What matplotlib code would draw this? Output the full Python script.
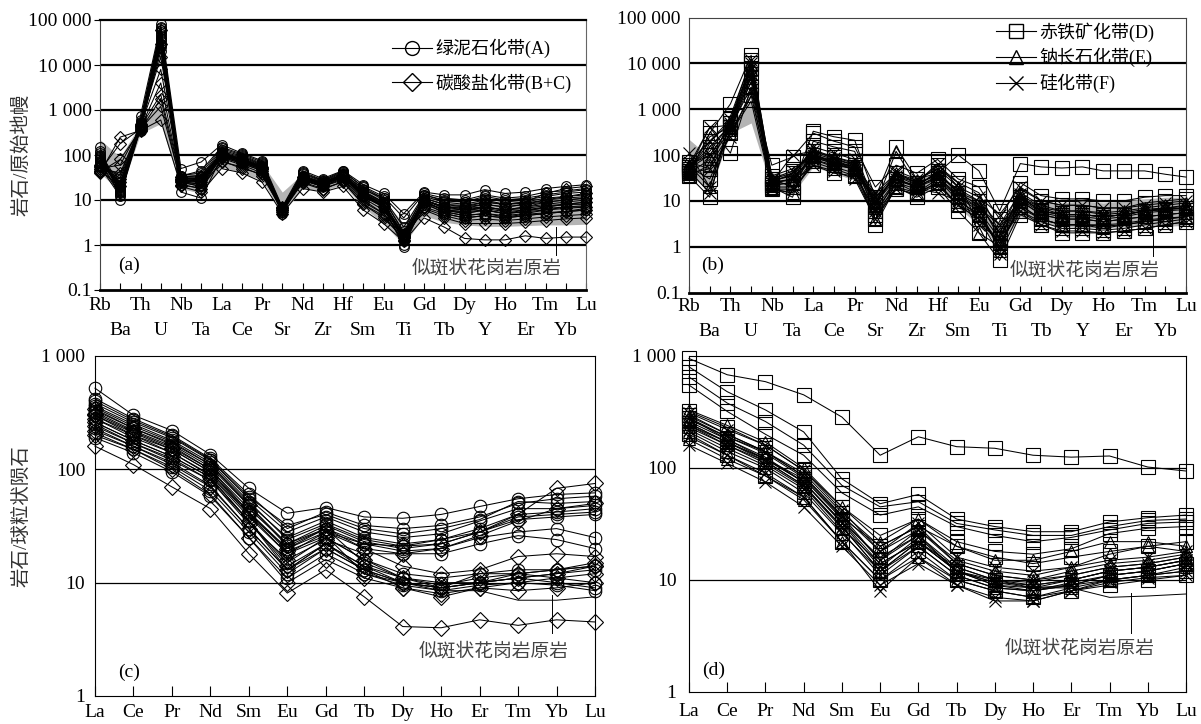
import numpy as np
import matplotlib
matplotlib.use("Agg")
import matplotlib.pyplot as plt
from matplotlib.lines import Line2D
from matplotlib.ticker import NullLocator

plt.rcParams['font.family'] = ['Liberation Serif', 'Noto Sans CJK SC']
plt.rcParams['axes.unicode_minus'] = False

# === 元素顺序 ===
SPIDER_ELEMS = ['Rb', 'Ba', 'Th', 'U', 'Nb', 'Ta', 'La', 'Ce', 'Pr', 'Sr', 'Nd', 'Zr', 'Hf',
                'Sm', 'Eu', 'Ti', 'Gd', 'Tb', 'Dy', 'Y', 'Ho', 'Er', 'Tm', 'Yb', 'Lu']
REE_ELEMS = ['La', 'Ce', 'Pr', 'Nd', 'Sm', 'Eu', 'Gd', 'Tb', 'Dy', 'Ho', 'Er', 'Tm', 'Yb', 'Lu']

# === 原始地幔标准化 (a) 绿泥石化带 A ===
spider_A = [
    [150, 10, 750, 80000, 50, 70, 170, 110, 75, 7, 45, 30, 45, 22, 14, 5, 15, 13, 13, 17, 14, 15, 18, 20, 22],
    [120, 15, 600, 60000, 35, 40, 140, 100, 65, 6, 40, 27, 42, 20, 12, 4, 14, 11, 10, 13, 11, 12, 15, 16, 18],
    [100, 20, 500, 50000, 30, 30, 120, 90, 60, 6, 35, 25, 38, 18, 10, 2, 12, 9, 8, 10, 8, 9, 11, 12, 13],
    [80, 18, 450, 40000, 28, 25, 110, 80, 55, 5.5, 32, 24, 36, 15, 9, 1.5, 11, 8, 7, 8, 7, 8, 9, 10, 11],
    [70, 14, 400, 30000, 25, 20, 100, 70, 50, 5, 30, 22, 35, 14, 8, 1.2, 10, 7, 6, 7, 6, 7, 8, 9, 10],
    [60, 25, 350, 25000, 15, 11, 90, 65, 45, 6, 28, 20, 32, 12, 7, 1.0, 9, 6, 5, 6, 5, 6, 7, 8, 9],
    [55, 12, 380, 35000, 22, 18, 95, 68, 48, 5.5, 28, 21, 34, 13, 7, 0.9, 9, 6, 5.5, 6, 5, 5.5, 6, 7, 7],
    [90, 16, 550, 70000, 32, 35, 130, 95, 62, 6.5, 38, 26, 40, 17, 11, 1.8, 13, 10, 9, 11, 9, 10, 12, 14, 15],
    [65, 13, 420, 45000, 26, 22, 105, 75, 52, 6, 31, 23, 36, 14, 8, 1.4, 10, 7, 6.5, 7, 6, 6.5, 7.5, 8, 8],
    [110, 22, 480, 55000, 30, 28, 115, 85, 58, 6, 34, 24, 37, 16, 9, 1.6, 11, 8, 7.5, 9, 8, 8.5, 10, 11, 12],
    [75, 17, 420, 20000, 27, 24, 100, 75, 52, 5.5, 30, 22, 34, 13, 7.5, 1.3, 9, 5, 4, 4.5, 4, 4.5, 5, 5.5, 6],
    [85, 19, 460, 38000, 29, 26, 112, 82, 56, 6, 33, 23, 36, 15, 8.5, 1.5, 10, 5.5, 4.5, 5, 4.2, 4.8, 5.2, 5.6, 6.5],
    [95, 15, 520, 65000, 34, 45, 150, 105, 70, 6.5, 42, 28, 44, 19, 11, 2.5, 13, 9.5, 9, 12, 10, 11, 13, 15, 17],
    [68, 21, 440, 28000, 24, 30, 108, 78, 54, 6, 30, 22, 35, 14, 8, 1.4, 10, 6.5, 6, 6.5, 5.5, 6, 6.5, 7, 7.5],
]
# 碳酸盐化带 B+C
spider_BC = [
    [40, 250, 350, 600, 20, 15, 50, 40, 25, 5, 18, 15, 20, 6, 3, 1.2, 4, 2.5, 1.4, 1.3, 1.3, 1.6, 1.4, 1.5, 1.5],
    [45, 180, 380, 1200, 25, 20, 70, 55, 35, 6, 25, 18, 25, 8, 4, 1.4, 6, 4, 3, 3, 3, 3.2, 3.5, 3.8, 4],
    [50, 60, 420, 2200, 28, 25, 90, 65, 45, 6, 28, 20, 30, 10, 5, 1.5, 7, 5, 4, 4.5, 4, 4.5, 5, 5.5, 6],
    [55, 30, 450, 8000, 30, 30, 100, 75, 50, 6.5, 30, 22, 33, 12, 7, 1.6, 9, 6, 5, 6, 5, 5.5, 7, 8, 9],
    [60, 25, 500, 15000, 33, 35, 110, 80, 55, 7, 33, 24, 36, 13, 8, 1.8, 10, 7, 6.5, 8, 7, 8, 10, 12, 14],
    [45, 20, 400, 4000, 26, 22, 85, 60, 40, 6, 27, 20, 28, 9, 5, 1.5, 8, 5.5, 4.5, 5, 4.5, 5, 6, 6.5, 7],
    [50, 40, 430, 30000, 30, 28, 95, 70, 48, 6.5, 30, 22, 32, 11, 6, 1.7, 9, 6, 5.5, 7, 6, 7, 9, 10, 11],
    [42, 80, 360, 1800, 22, 18, 75, 50, 38, 5.5, 24, 17, 26, 8, 4.5, 1.3, 6.5, 4.5, 3.5, 3.8, 3.5, 3.8, 4.2, 4.5, 4.8],
    [58, 35, 470, 60000, 32, 32, 105, 78, 52, 6.5, 32, 23, 35, 12, 7.5, 1.6, 10, 7, 7, 9, 8, 9, 14, 18, 20],
]
# (b) 赤铁矿化带 D
spider_D = [
    [40, 300, 1300, 15000, 30, 20, 330, 250, 210, 12, 150, 30, 40, 100, 45, 6, 65, 55, 52, 55, 45, 45, 45, 38, 33],
    [50, 400, 110, 3000, 60, 90, 300, 200, 150, 20, 60, 40, 80, 30, 20, 4, 25, 13, 11, 11, 10, 10, 12, 13, 13],
    [35, 12, 600, 8000, 20, 12, 200, 150, 120, 8, 40, 25, 60, 25, 15, 2, 18, 10, 8, 8, 7, 7, 9, 10, 11],
    [60, 100, 400, 5000, 25, 40, 120, 90, 70, 5, 30, 20, 45, 15, 10, 1.5, 12, 6, 5, 5, 4.5, 5, 6, 6.5, 7],
    [45, 200, 500, 10000, 18, 15, 80, 60, 50, 4, 25, 15, 30, 10, 5, 1, 8, 4, 3, 3, 2.8, 3, 3.5, 4, 4.5],
    [70, 50, 700, 12000, 35, 50, 100, 70, 55, 3, 20, 12, 20, 6, 2, 0.5, 5, 3, 2, 2, 2, 2.2, 2.5, 3, 3.5],
    [55, 30, 300, 2000, 22, 25, 60, 40, 35, 6, 18, 14, 25, 8, 4, 1.2, 6, 3.5, 2.5, 2.5, 2.3, 2.5, 3, 3.5, 4],
]
# 钠长石化带 E
spider_E = [
    [50, 150, 450, 6000, 28, 35, 110, 80, 60, 10, 35, 25, 35, 18, 10, 3, 15, 8, 6, 6, 5.5, 6, 7, 8, 9],
    [40, 80, 350, 4000, 22, 25, 90, 65, 50, 7, 28, 20, 30, 12, 6, 1.5, 10, 5, 4, 4, 3.5, 4, 4.5, 5, 5.5],
    [60, 20, 550, 9000, 30, 40, 130, 90, 65, 12, 40, 28, 50, 20, 2, 1, 12, 7, 5, 5, 4.5, 5, 6, 6.5, 7],
    [35, 60, 300, 1500, 18, 15, 70, 50, 35, 4, 20, 15, 25, 8, 5, 1.2, 7, 4, 3, 3, 2.5, 3, 3.5, 4, 4.5],
    [45, 250, 400, 3000, 25, 30, 100, 70, 55, 8, 120, 22, 40, 15, 8, 2, 12, 6, 5, 5, 4.5, 5, 6, 7, 7.5],
    [55, 120, 480, 7000, 26, 28, 95, 68, 52, 9, 30, 21, 32, 14, 7, 0.8, 11, 5.5, 4.5, 4.5, 4, 4.5, 5.5, 6, 6.5],
]
# 硅化带 F
spider_F = [
    [110, 20, 500, 10000, 25, 100, 120, 85, 60, 15, 40, 25, 65, 20, 12, 5, 20, 10, 8, 8, 7, 7, 8, 9, 10],
    [60, 400, 450, 8000, 30, 45, 100, 75, 55, 10, 35, 22, 40, 15, 8, 2, 12, 6, 5, 5, 4.5, 5, 6, 6.5, 7],
    [45, 15, 350, 5000, 20, 20, 80, 55, 40, 6, 25, 18, 15, 10, 5, 1, 8, 4, 3, 3, 3, 3.2, 3.8, 4.2, 4.5],
    [70, 200, 600, 12000, 28, 35, 150, 110, 80, 8, 45, 30, 50, 25, 3, 1.5, 14, 7, 6, 6, 5, 5.5, 6.5, 7, 8],
    [40, 50, 250, 2500, 18, 18, 60, 45, 30, 4, 18, 14, 22, 8, 4, 0.7, 6, 3, 2.2, 2.2, 2, 2.2, 2.5, 3, 3.5],
    [50, 100, 400, 6000, 24, 30, 90, 65, 48, 12, 30, 20, 35, 12, 7, 3, 10, 5, 4, 4, 3.5, 4, 4.5, 5, 5.5],
]
# 似斑状花岗岩原岩范围 (原始地幔标准化)
protolith_sp_low = [40, 15, 300, 500, 18, 14, 55, 40, 28, 5, 18, 16, 22, 7, 3, 1.0, 4.5, 3.2, 2.8, 2.6, 2.6, 2.7, 2.8, 2.8, 2.9]
protolith_sp_high = [220, 90, 500, 1500, 40, 40, 130, 95, 65, 15, 38, 30, 42, 18, 10, 3, 12, 9, 9, 10, 9, 10, 11, 12, 12]

# === 球粒陨石标准化 (c) ===
ree_A = [
    [520, 300, 220, 135, 68, 41, 46, 38, 37, 40, 47, 55, 60, 62],
    [420, 280, 200, 125, 60, 30, 42, 32, 30, 32, 38, 50, 55, 58],
    [380, 260, 190, 120, 55, 28, 38, 28, 25, 27, 35, 45, 45, 48],
    [350, 240, 175, 110, 50, 25, 35, 25, 22, 24, 30, 40, 42, 45],
    [320, 220, 160, 100, 45, 22, 32, 23, 20, 22, 28, 38, 40, 42],
    [300, 200, 150, 95, 42, 20, 30, 22, 19, 20, 25, 28, 30, 25],
    [280, 190, 140, 88, 38, 18, 28, 20, 18, 18, 22, 26, 24, 20],
    [250, 170, 125, 80, 35, 15, 25, 16, 12, 11, 12, 13, 13, 14],
    [230, 160, 115, 72, 30, 13, 22, 14, 11, 10, 10, 12, 11, 10],
    [210, 150, 105, 65, 28, 12, 20, 13, 10, 9, 10, 11, 10, 9],
    [190, 140, 95, 58, 25, 11, 18, 12, 9.5, 8.5, 9.5, 10, 9.5, 8.5],
    [360, 250, 180, 115, 52, 24, 33, 24, 21, 24, 28, 36, 38, 40],
    [330, 230, 165, 105, 48, 21, 30, 15, 11, 9, 10, 11, 12, 13],
    [400, 270, 195, 122, 57, 32, 40, 30, 27, 30, 36, 52, 50, 52],
]
ree_BC = [
    [160, 110, 70, 45, 18, 8.1, 13, 7.5, 4.1, 4.0, 4.7, 4.2, 4.7, 4.5],
    [200, 150, 100, 60, 25, 10, 16, 11, 9, 8, 9, 10, 11, 12],
    [260, 180, 130, 85, 35, 14, 22, 14, 10, 9, 10, 11, 12, 14],
    [300, 210, 150, 95, 40, 18, 25, 16, 11, 9.5, 11, 12, 13, 15],
    [340, 230, 170, 110, 48, 22, 30, 20, 14, 12, 13, 17, 18, 17],
    [280, 200, 140, 90, 40, 20, 28, 22, 21, 22, 28, 40, 68, 75],
    [240, 170, 120, 80, 33, 16, 24, 18, 18, 20, 26, 35, 45, 50],
    [220, 160, 110, 70, 30, 13, 20, 13, 9, 7.5, 9, 8.5, 9, 10],
    [310, 215, 155, 100, 42, 19, 26, 12, 10, 9, 12, 12, 13, 14],
]
protolith_ree_c = [260, 180, 130, 85, 35, 13, 22, 13, 10, 8.5, 8.5, 7, 7, 7.5]

# === (d) ===
ree_D = [
    [950, 680, 590, 450, 285, 130, 190, 155, 150, 130, 125, 128, 102, 94],
    [800, 480, 330, 210, 80, 48, 58, 35, 30, 27, 27, 33, 36, 38],
    [650, 380, 260, 160, 70, 45, 50, 32, 28, 25, 25, 30, 34, 35],
    [550, 320, 200, 130, 60, 38, 45, 30, 25, 22, 24, 28, 32, 33],
    [300, 200, 140, 90, 40, 20, 30, 20, 16, 14, 16, 18, 20, 22],
    [250, 170, 115, 70, 30, 12, 22, 13, 10, 8.5, 9, 10, 11, 12],
    [200, 130, 85, 55, 22, 10, 18, 10, 8, 7, 8, 9, 10, 11],
    [280, 180, 120, 80, 35, 15, 25, 12, 9, 8, 9, 11, 12, 14],
    [320, 230, 160, 95, 45, 25, 35, 22, 18, 17, 19, 26, 29, 30],
]
ree_E = [
    [330, 240, 170, 100, 45, 22, 35, 20, 15, 15, 18, 22, 22, 20],
    [290, 200, 140, 85, 38, 18, 28, 15, 12, 11, 13, 17, 20, 18],
    [260, 180, 125, 75, 33, 16, 25, 13, 10, 9.5, 11, 13, 14, 16],
    [230, 160, 110, 68, 29, 14, 22, 12, 9, 8.5, 10, 12, 13, 15],
    [210, 140, 100, 60, 26, 12, 20, 11, 8.5, 8, 9.5, 11, 12, 14],
    [180, 120, 85, 52, 22, 10, 16, 10, 8, 7, 8.5, 10, 11, 13],
    [270, 190, 135, 82, 36, 20, 30, 14, 11, 10, 12, 14, 15, 17],
]
ree_F = [
    [310, 220, 160, 95, 42, 18, 32, 16, 13, 12, 13, 15, 16, 18],
    [280, 190, 140, 85, 37, 15, 28, 14, 11, 10, 11, 13, 14, 16],
    [250, 170, 120, 75, 32, 13, 24, 12, 9.5, 9, 10, 12, 13, 15],
    [220, 150, 105, 65, 27, 11, 20, 11, 8.5, 8, 9, 11, 12, 14],
    [190, 130, 90, 55, 22, 8, 16, 9, 7, 6.5, 8, 10, 11, 12],
    [160, 110, 75, 45, 20, 9, 14, 9, 6.5, 6.5, 8, 9.5, 10.5, 11],
    [240, 160, 115, 70, 30, 12, 22, 12, 10, 9, 10, 12, 13, 15],
]
protolith_ree_d = [240, 170, 120, 75, 33, 14, 22, 12, 9.5, 8.5, 8.5, 7, 7.2, 7.5]

SP_TICKS = [0.1, 1, 10, 100, 1000, 10000, 100000]
SP_TICKLABELS = ['0.1', '1', '10', '100', '1 000', '10 000', '100 000']
REE_TICKS = [1, 10, 100, 1000]
REE_TICKLABELS = ['1', '10', '100', '1 000']

FS = 14
W, H = 1201, 724


def px_axes(fig, left, right, top, bottom):
    return fig.add_axes([left / W, 1 - bottom / H, (right - left) / W, (bottom - top) / H])


def draw_group(ax, x, rows, marker, ms):
    for row in rows:
        ax.plot(x, row, color='k', lw=0.75, marker=marker, ms=ms, mfc='none',
                mec='k', mew=0.8, clip_on=False, zorder=3)


def style_axes(ax, n, yticks, ylabels, grid_lw, tick_len, xpad, ypad, ylen):
    ax.set_yscale('log')
    ax.set_xlim(0, n - 1)
    ax.set_ylim(yticks[0], yticks[-1])
    ax.set_yticks(yticks, ylabels)
    ax.yaxis.set_minor_locator(NullLocator())
    for v in yticks[1:-1]:
        ax.axhline(v, color='k', lw=grid_lw, zorder=1)
    ax.tick_params(axis='x', which='both', direction='in', length=tick_len, width=0.8,
                   pad=xpad, labelsize=FS)
    ax.tick_params(axis='y', direction='out', length=ylen, width=0.8, pad=ypad, labelsize=FS)


def two_row_xticks(ax, elems, pad):
    # 奇偶元素分两行标注
    idx = np.arange(len(elems))
    ax.set_xticks(idx[::2], elems[::2])
    ax.set_xticks(idx[1::2], elems[1::2], minor=True)
    ax.tick_params(axis='x', which='major', pad=pad)
    ax.tick_params(axis='x', which='minor', pad=pad + 18)


fig = plt.figure(figsize=(12.01, 7.24), dpi=100)

# ---------- (a) ----------
xs = np.arange(len(SPIDER_ELEMS))

ax_a = px_axes(fig, 100, 586, 20, 290)
style_axes(ax_a, len(SPIDER_ELEMS), SP_TICKS, SP_TICKLABELS, 1.6, 5, 4, 2, 4)
ax_a.fill_between(xs, protolith_sp_low, protolith_sp_high, color='#b4b4b4', lw=0, zorder=2)
draw_group(ax_a, xs, spider_A, 'o', 7)
draw_group(ax_a, xs, spider_BC, 'D', 6)
two_row_xticks(ax_a, SPIDER_ELEMS, 5)
ax_a.spines['bottom'].set_linewidth(2)
ax_a.spines['top'].set_linewidth(1.6)
ax_a.spines['left'].set_color('#444444')
ax_a.spines['right'].set_color('#666666')
ax_a.text(1.43, 0.36, '(a)', fontsize=FS, ha='center', va='center')
ax_a.plot([22.5, 22.5], [0.6, 2.5], color='k', lw=0.7, zorder=4)
ax_a.text(19.1, 0.30, '似斑状花岗岩原岩', fontsize=13.5, color='#444444', ha='center', va='center')
leg_a = [Line2D([], [], color='k', lw=0.8, marker='o', ms=10, mfc='none', mec='k'),
         Line2D([], [], color='k', lw=0.8, marker='D', ms=9, mfc='none', mec='k')]
ax_a.legend(leg_a, ['绿泥石化带(A)', '碳酸盐化带(B+C)'], loc='upper left',
            bbox_to_anchor=(392 / W, 1 - 39 / H), bbox_transform=fig.transFigure,
            frameon=False, fontsize=13, handlelength=2.2, handletextpad=0.2,
            labelspacing=0.83, borderpad=0, borderaxespad=0)

# ---------- (b) ----------
ax_b = px_axes(fig, 689, 1186, 17.5, 292.5)
style_axes(ax_b, len(SPIDER_ELEMS), SP_TICKS, SP_TICKLABELS, 1.6, 5, 4, 6, 0)
ax_b.fill_between(xs, protolith_sp_low, protolith_sp_high, color='#b4b4b4', lw=0, zorder=2)
draw_group(ax_b, xs, spider_D, 's', 10)
draw_group(ax_b, xs, spider_E, '^', 9)
draw_group(ax_b, xs, spider_F, 'x', 9)
two_row_xticks(ax_b, SPIDER_ELEMS, 4)
ax_b.spines['bottom'].set_linewidth(2)
ax_b.spines['top'].set_color('#444444')
ax_b.spines['left'].set_color('#444444')
ax_b.spines['right'].set_color('#444444')
ax_b.text(1.16, 0.40, '(b)', fontsize=FS, ha='center', va='center')
ax_b.plot([22.4, 22.4], [0.62, 2.3], color='k', lw=0.7, zorder=4)
ax_b.text(19.1, 0.30, '似斑状花岗岩原岩', fontsize=13.5, color='#444444', ha='center', va='center')
leg_b = [Line2D([], [], color='k', lw=0.8, marker='s', ms=10, mfc='none', mec='k'),
         Line2D([], [], color='k', lw=0.8, marker='^', ms=10, mfc='none', mec='k'),
         Line2D([], [], color='k', lw=0.8, marker='x', ms=10, mfc='none', mec='k')]
ax_b.legend(leg_b, ['赤铁矿化带(D)', '钠长石化带(E)', '硅化带(F)'], loc='upper left',
            bbox_to_anchor=(996 / W, 1 - 22 / H), bbox_transform=fig.transFigure,
            frameon=False, fontsize=13, handlelength=2.2, handletextpad=0.2,
            labelspacing=0.36, borderpad=0, borderaxespad=0)

# ---------- (c) ----------
xr = np.arange(len(REE_ELEMS))
ax_c = px_axes(fig, 95, 595, 356, 696)
style_axes(ax_c, len(REE_ELEMS), REE_TICKS, REE_TICKLABELS, 0.9, 7, 6, 7, 0)
ax_c.plot(xr, protolith_ree_c, color='k', lw=0.7, zorder=3)
draw_group(ax_c, xr, ree_A, 'o', 9)
draw_group(ax_c, xr, ree_BC, 'D', 8)
ax_c.set_xticks(xr, REE_ELEMS)
ax_c.text(0.88, 1.63, '(c)', fontsize=FS, ha='center', va='center')
ax_c.plot([11.88, 11.88], [3.6, 7.8], color='k', lw=0.7, zorder=4)
ax_c.text(10.37, 2.45, '似斑状花岗岩原岩', fontsize=13.5, color='#444444', ha='center', va='center')

# ---------- (d) ----------
ax_d = px_axes(fig, 689, 1186, 356, 692)
style_axes(ax_d, len(REE_ELEMS), REE_TICKS, REE_TICKLABELS, 0.9, 7, 8, 9, 0)
ax_d.plot(xr, protolith_ree_d, color='k', lw=0.7, zorder=3)
draw_group(ax_d, xr, ree_D, 's', 10)
draw_group(ax_d, xr, ree_E, '^', 9)
draw_group(ax_d, xr, ree_F, 'x', 9)
ax_d.set_xticks(xr, REE_ELEMS)
ax_d.text(0.65, 1.57, '(d)', fontsize=FS, ha='center', va='center')
ax_d.plot([11.56, 11.56], [3.36, 7.65], color='k', lw=0.7, zorder=4)
ax_d.text(10.23, 2.47, '似斑状花岗岩原岩', fontsize=13.5, color='#444444', ha='center', va='center')

fig.text(21 / W, 1 - 155 / H, '岩石/原始地幔', rotation=90, fontsize=14,
         color='#333333', ha='center', va='center')
fig.text(21 / W, 1 - 516 / H, '岩石/球粒状陨石', rotation=90, fontsize=14,
         color='#333333', ha='center', va='center')

fig.savefig('out.png', dpi=100)
